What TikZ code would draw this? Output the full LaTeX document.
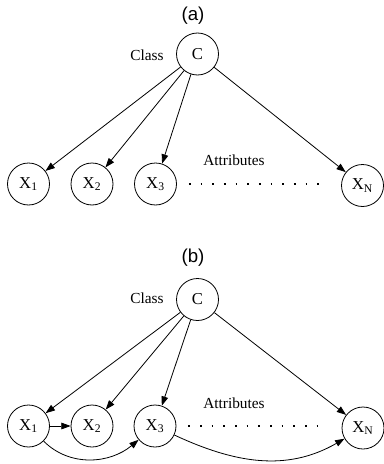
\documentclass[tikz,border=0pt]{standalone}
\usepackage{fontspec}
\setmainfont{Liberation Serif}
\newfontfamily\ttlfont{Liberation Sans}
\usetikzlibrary{arrows.meta}

\begin{document}
\begin{tikzpicture}[x=0.75pt,y=-0.75pt,
  every node/.style={font=\fontsize{11.5}{13}\selectfont},
  var/.style={circle, draw, line width=0.6pt, minimum size=31.5pt, inner sep=0pt,
              font=\fontsize{12.5}{14}\selectfont},
  lbl/.style={inner sep=0pt},
  ttl/.style={font=\ttlfont\fontsize{14}{16}\selectfont, inner sep=0pt},
  link/.style={-{Triangle[length=7pt,width=5pt]}, line width=0.6pt},
  puntos/.style={line width=1.3pt, dash pattern=on 1.3pt off 7.45pt,
                 shorten <=9pt, shorten >=11pt}]
\useasboundingbox (0,0) rectangle (383,464);

% (a)
\node[ttl] (ta) at (193,16) {(a)};
\node[var] (ca)  at (197.5,54) {C};
\node[lbl] (cla) at (147,55) {Class};
\node[var] (a1) at (28.5,184)  {X\textsubscript{1}};
\node[var] (a2) at (92,184)    {X\textsubscript{2}};
\node[var] (a3) at (155.5,184) {X\textsubscript{3}};
\node[var] (an) at (362.5,185.5) {X\textsubscript{N}};
\node[lbl] (ata) at (234,160) {Attributes};

\draw[link] (ca)--(a1); \draw[link] (ca)--(a2);
\draw[link] (ca)--(a3); \draw[link] (ca)--(an);
\draw[puntos] (a3.east)--(a3.east -| an.west);

% (b)
\node[ttl] (tb) at (193,258) {(b)};
\node[var] (cb)  at (197.5,299.5) {C};
\node[lbl] (clb) at (147,298) {Class};
\node[var] (b1) at (28.5,426) {X\textsubscript{1}};
\node[var] (b2) at (92,426)   {X\textsubscript{2}};
\node[var] (b3) at (155,426)  {X\textsubscript{3}};
\node[var] (bn) at (363,428)  {X\textsubscript{N}};
\node[lbl] (atb) at (234,403) {Attributes};

\draw[link] (cb)--(b1); \draw[link] (cb)--(b2);
\draw[link] (cb)--(b3); \draw[link] (cb)--(bn);
\draw[link] (b1)--(b2);
\draw[link] (b1) to[out=-45,in=-140] (b3);
\draw[link] (b3) to[out=-25,in=-150] (bn);
\draw[puntos] (b3.east)--(b3.east -| bn.west);
\end{tikzpicture}
\end{document}
